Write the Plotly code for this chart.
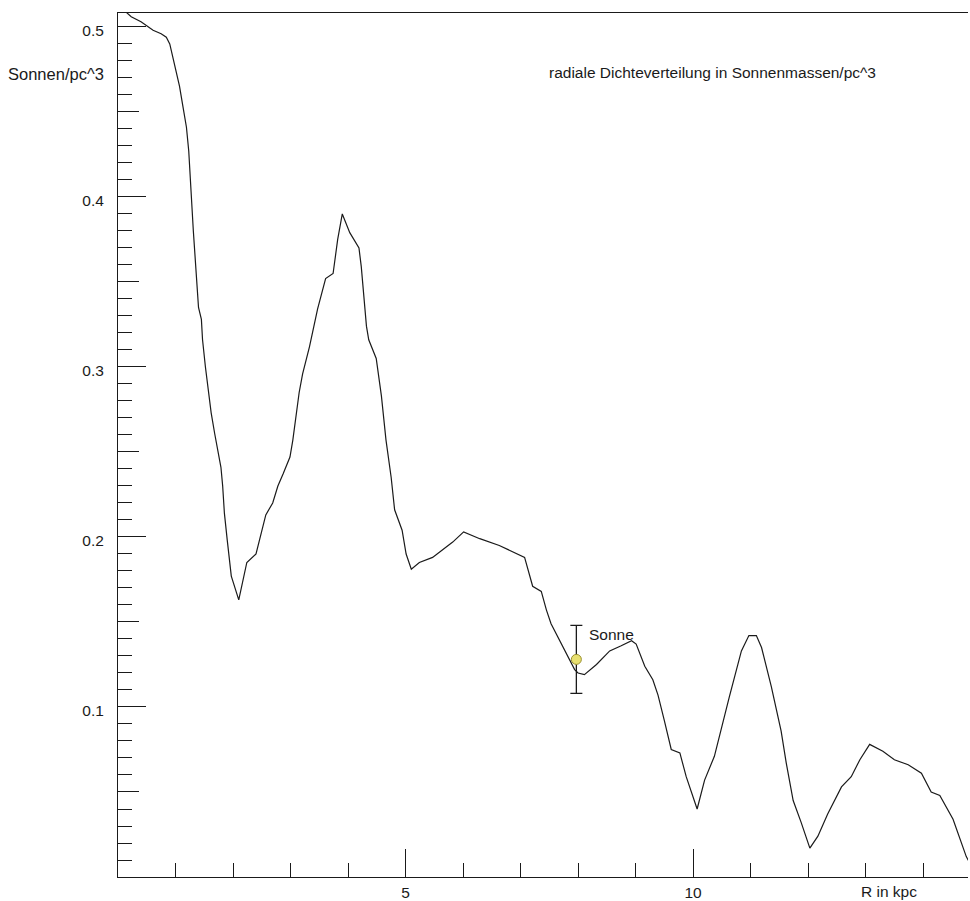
import plotly.graph_objects as go

# Radial distance (kpc) and density (solar masses / pc^3)
R_kpc = [0.0, 0.16, 0.23, 0.40, 0.52, 0.61, 0.75, 0.84, 0.90, 0.95,
         1.01, 1.07, 1.13, 1.19, 1.23, 1.27, 1.31, 1.36, 1.40, 1.45,
         1.47, 1.52, 1.56, 1.62, 1.68, 1.74, 1.79, 1.82, 1.85, 1.90,
         1.94, 1.97, 2.10, 2.17, 2.24, 2.40, 2.46, 2.57, 2.69, 2.78,
         2.87, 2.99, 3.04, 3.09, 3.15, 3.21, 3.33, 3.47, 3.61, 3.74,
         3.82, 3.90, 4.03, 4.19, 4.23, 4.32, 4.36, 4.49, 4.58, 4.66,
         4.75, 4.81, 4.94, 5.01, 5.10, 5.24, 5.47, 5.82, 6.01, 6.29,
         6.63, 7.07, 7.13, 7.21, 7.36, 7.45, 7.53, 7.62, 7.74, 7.85,
         7.94, 8.00, 8.11, 8.32, 8.55, 8.75, 8.93, 9.01, 9.16, 9.30,
         9.39, 9.50, 9.62, 9.77, 9.88, 10.07, 10.20, 10.37, 10.49, 10.63,
         10.84, 10.97, 11.10, 11.19, 11.36, 11.53, 11.62, 11.74, 11.88, 12.03,
         12.17, 12.34, 12.58, 12.75, 12.90, 13.07, 13.30, 13.50, 13.74, 13.97,
         14.14, 14.29, 14.52, 14.75, 14.80]

density = [0.513, 0.508, 0.506, 0.503, 0.500, 0.498, 0.496, 0.494, 0.490, 0.483,
           0.475, 0.465, 0.453, 0.441, 0.427, 0.402, 0.380, 0.355, 0.335, 0.328,
           0.316, 0.300, 0.288, 0.273, 0.261, 0.251, 0.241, 0.230, 0.214, 0.198,
           0.185, 0.177, 0.163, 0.175, 0.185, 0.190, 0.198, 0.213, 0.220, 0.230,
           0.237, 0.247, 0.257, 0.269, 0.285, 0.296, 0.312, 0.334, 0.352, 0.355,
           0.375, 0.390, 0.379, 0.370, 0.359, 0.324, 0.316, 0.305, 0.283, 0.257,
           0.235, 0.216, 0.204, 0.190, 0.181, 0.185, 0.188, 0.197, 0.203, 0.199,
           0.195, 0.188, 0.181, 0.171, 0.168, 0.157, 0.149, 0.143, 0.135, 0.128,
           0.122, 0.120, 0.119, 0.125, 0.133, 0.136, 0.139, 0.137, 0.124, 0.116,
           0.107, 0.092, 0.075, 0.073, 0.059, 0.040, 0.057, 0.071, 0.088, 0.106,
           0.133, 0.142, 0.142, 0.135, 0.112, 0.086, 0.067, 0.045, 0.032, 0.017,
           0.024, 0.037, 0.053, 0.059, 0.069, 0.078, 0.074, 0.069, 0.066, 0.061,
           0.050, 0.048, 0.034, 0.012, 0.009]

# Sun position with error bar
sun_R = [7.97]
sun_density = [0.128]
sun_error = [0.020]

x_major_ticks = [5, 10]
x_major_labels = ["5", "10"]
y_major_ticks = [0.1, 0.2, 0.3, 0.4, 0.5]
y_major_labels = ["0.1", "0.2", "0.3", "0.4", "0.5"]
y_mid_ticks = [0.05, 0.15, 0.25, 0.35, 0.45]

X_RANGE = [0, 14.78]
Y_RANGE = [0, 0.5082]

FONT = "Liberation Sans, Arial, sans-serif"
FS = 15.5
INK = "#1a1a1a"

fig = go.Figure()

fig.add_trace(go.Scatter(
    x=R_kpc, y=density, mode="lines",
    line=dict(color=INK, width=1.2),
    hoverinfo="x+y", showlegend=False,
))

fig.add_trace(go.Scatter(
    x=sun_R, y=sun_density, mode="markers",
    marker=dict(size=10, color="#e8e070", line=dict(color="#9a9030", width=1)),
    error_y=dict(type="data", array=sun_error, visible=True,
                 color=INK, thickness=1.3, width=6),
    showlegend=False,
))

# invisible trace on the overlaying axis for the medium y ticks
fig.add_trace(go.Scatter(
    x=[None], y=[None], yaxis="y2", mode="lines", showlegend=False, hoverinfo="skip",
))

fig.update_layout(
    width=970, height=901,
    margin=dict(l=118, r=2, t=13, b=24, autoexpand=False),
    paper_bgcolor="white", plot_bgcolor="white",
    font=dict(family=FONT, size=FS, color=INK),
    xaxis=dict(
        range=X_RANGE, showgrid=False, zeroline=False, automargin=False,
        showline=True, linecolor=INK, linewidth=1, mirror=True,
        tickmode="array", tickvals=x_major_ticks, ticktext=x_major_labels,
        ticks="inside", ticklen=28, tickwidth=1, tickcolor=INK,
        ticklabelstandoff=1,
        minor=dict(tickmode="linear", tick0=0, dtick=1, ticks="inside",
                   ticklen=14, tickwidth=1, tickcolor=INK, showgrid=False),
        tickfont=dict(family=FONT, size=FS, color=INK),
    ),
    yaxis=dict(
        range=Y_RANGE, showgrid=False, zeroline=False, automargin=False,
        showline=True, linecolor=INK, linewidth=1,
        tickmode="array", tickvals=y_major_ticks, ticktext=y_major_labels,
        ticks="inside", ticklen=28, tickwidth=1, tickcolor=INK,
        ticklabelstandoff=10, ticklabelshift=4,
        minor=dict(tickmode="linear", tick0=0, dtick=0.01, ticks="inside",
                   ticklen=14, tickwidth=1, tickcolor=INK, showgrid=False),
        tickfont=dict(family=FONT, size=FS, color=INK),
    ),
    yaxis2=dict(
        range=Y_RANGE, overlaying="y", side="left", anchor="x", automargin=False,
        showgrid=False, zeroline=False, showline=False,
        tickmode="array", tickvals=y_mid_ticks, showticklabels=False,
        ticks="inside", ticklen=21, tickwidth=1, tickcolor=INK,
    ),
    annotations=[
        dict(text="Sonnen/pc^3", xref="paper", yref="paper",
             x=-0.1318, y=0.9294, xanchor="left", yanchor="middle",
             showarrow=False, font=dict(family=FONT, size=16.5, color=INK)),
        dict(text="radiale Dichteverteilung in Sonnenmassen/pc^3",
             xref="paper", yref="paper", x=0.505, y=0.9306,
             xanchor="left", yanchor="middle", showarrow=False,
             font=dict(family=FONT, size=FS, color=INK)),
        dict(text="R in kpc", xref="x", yref="paper", x=13.4, y=-0.0165,
             xanchor="center", yanchor="middle", showarrow=False,
             font=dict(family=FONT, size=FS, color=INK)),
        dict(text="Sonne", xref="x", yref="y", x=8.16, y=0.1425,
             xanchor="left", yanchor="middle", showarrow=False,
             font=dict(family=FONT, size=FS, color=INK)),
    ],
)

fig.write_html("out.html")
